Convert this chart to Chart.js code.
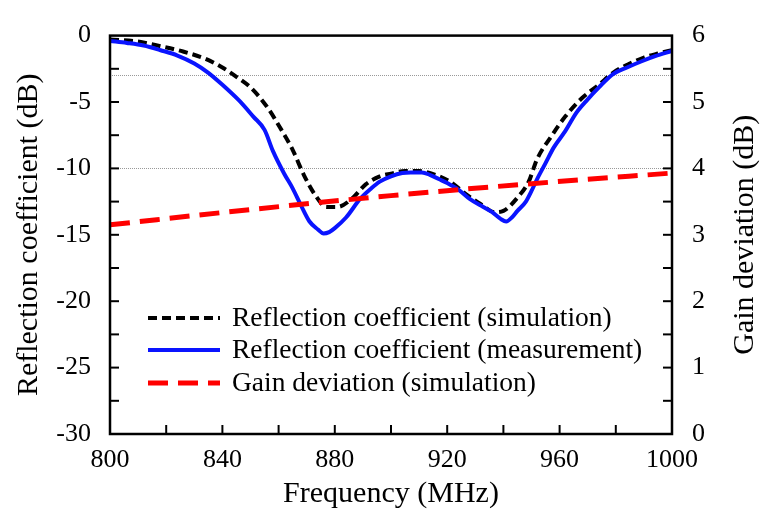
<!DOCTYPE html>
<html>
<head>
<meta charset="utf-8">
<script src="https://cdn.jsdelivr.net/npm/chart.js@4/dist/chart.umd.min.js"></script>
<style>
  body { margin: 0; background: #fff; }
  #wrap { width: 762px; height: 516px; }
</style>
</head>
<body>
<div id="wrap"><canvas id="grafico" width="762" height="516"></canvas></div>
<script>
// datos
const freqSim = [800, 810, 818, 826, 834, 840, 845, 850, 856, 861, 865, 869, 873, 877, 881, 886, 891, 896, 900, 905, 910, 916, 921, 927, 932, 937, 940, 945, 949, 952, 957, 962, 968, 974, 979, 985, 990, 995, 1000];
const rcSim = [-0.3, -0.45, -0.8, -1.2, -1.75, -2.4, -3.1, -3.9, -5.4, -7.1, -8.6, -10.5, -12.0, -12.9, -12.9, -12.3, -11.2, -10.6, -10.4, -10.2, -10.2, -10.5, -11.0, -12.0, -12.7, -13.3, -13.2, -12.2, -11.0, -9.3, -7.6, -6.1, -4.7, -3.7, -2.8, -2.1, -1.65, -1.35, -1.1];

const freqMeas = [800, 806, 812, 818, 824, 830, 835, 840, 846, 851, 855, 858, 862, 865, 868, 871, 874, 876, 878, 880, 884, 889, 893, 896, 900, 904, 907, 911, 914, 917, 920, 924, 928, 932, 936, 939, 941, 943, 945, 948, 950, 952, 955, 958, 962, 966, 970, 974, 979, 984, 989, 994, 1000];
const rcMeas = [-0.4, -0.55, -0.75, -1.1, -1.5, -2.1, -2.8, -3.7, -4.9, -6.1, -7.1, -8.7, -10.4, -11.5, -12.8, -14.0, -14.6, -14.9, -14.8, -14.5, -13.7, -12.3, -11.5, -11.0, -10.6, -10.35, -10.3, -10.3, -10.5, -10.8, -11.1, -11.6, -12.3, -12.8, -13.3, -13.8, -14.0, -13.7, -13.2, -12.5, -11.7, -10.8, -9.6, -8.4, -7.2, -5.8, -4.8, -3.9, -2.9, -2.4, -1.95, -1.55, -1.15];

const freqGain = [800, 850, 900, 950, 1000];
const gainSim = [3.15, 3.38, 3.59, 3.77, 3.93];

const xTicks = [800, 840, 880, 920, 960, 1000];
const refLines = [-3, -10];

const etiquetas = [
  'Reflection coefficient (simulation)',
  'Reflection coefficient (measurement)',
  'Gain deviation (simulation)'
];
const tituloIzq = 'Reflection coefficient (dB)';
const tituloDer = 'Gain deviation (dB)';

const serif = '"Liberation Serif", "Times New Roman", serif';

function puntos(xs, ys) {
  return xs.map((x, i) => ({ x: x, y: ys[i] }));
}

// marco, marcas hacia dentro, lineas de referencia, titulos y leyenda
const marcoPlugin = {
  id: 'marco',
  beforeDatasetsDraw(chart) {
    const ctx = chart.ctx;
    const a = chart.chartArea;
    const y = chart.scales.y;
    ctx.save();
    ctx.strokeStyle = '#999';
    ctx.lineWidth = 1;
    ctx.setLineDash([1, 1]);
    refLines.forEach(v => {
      const py = Math.round(y.getPixelForValue(v)) + 0.5;
      ctx.beginPath();
      ctx.moveTo(a.left, py);
      ctx.lineTo(a.right, py);
      ctx.stroke();
    });
    ctx.restore();
  },
  afterDatasetsDraw(chart) {
    const ctx = chart.ctx;
    const a = chart.chartArea;
    const { x, y, y1 } = chart.scales;
    ctx.save();
    ctx.strokeStyle = '#000';
    ctx.lineWidth = 2.5;
    ctx.setLineDash([]);
    ctx.strokeRect(a.left, a.top, a.right - a.left, a.bottom - a.top);
    ctx.lineWidth = 2;
    const len = 9;
    for (let v = -27.5; v < 0; v += 2.5) {
      const py = y.getPixelForValue(v);
      ctx.beginPath(); ctx.moveTo(a.left, py); ctx.lineTo(a.left + len, py); ctx.stroke();
    }
    for (let v = 0.5; v < 6; v += 0.5) {
      const py = y1.getPixelForValue(v);
      ctx.beginPath(); ctx.moveTo(a.right, py); ctx.lineTo(a.right - len, py); ctx.stroke();
    }
    for (let v = 820; v < 1000; v += 20) {
      const px = x.getPixelForValue(v);
      ctx.beginPath(); ctx.moveTo(px, a.bottom); ctx.lineTo(px, a.bottom - len); ctx.stroke();
    }

    // titulos verticales (ambos leidos de abajo hacia arriba)
    const cy = (a.top + a.bottom) / 2;
    ctx.fillStyle = '#000';
    ctx.font = '30px ' + serif;
    ctx.textAlign = 'center';
    ctx.textBaseline = 'middle';
    [[29, tituloIzq], [745, tituloDer]].forEach(([tx, texto]) => {
      ctx.save();
      ctx.translate(tx, cy);
      ctx.rotate(-Math.PI / 2);
      ctx.fillText(texto, 0, 0);
      ctx.restore();
    });

    // leyenda
    const ds = chart.data.datasets;
    const lx = 148, lw = 72, tx = 232;
    const filas = [318, 350, 383];
    ctx.font = '27.5px ' + serif;
    ctx.textAlign = 'left';
    ds.forEach((d, i) => {
      ctx.strokeStyle = d.borderColor;
      ctx.lineWidth = d.borderWidth;
      ctx.setLineDash(d.borderDash || []);
      ctx.beginPath();
      ctx.moveTo(lx, filas[i]);
      ctx.lineTo(lx + lw, filas[i]);
      ctx.stroke();
      ctx.fillText(d.label, tx, filas[i] + 1);
    });
    ctx.restore();
  }
};

new Chart(document.getElementById('grafico'), {
  type: 'line',
  data: {
    datasets: [
      {
        label: etiquetas[0],
        data: puntos(freqSim, rcSim),
        yAxisID: 'y',
        borderColor: '#000',
        borderWidth: 4,
        borderDash: [9, 5],
        order: 2
      },
      {
        label: etiquetas[1],
        data: puntos(freqMeas, rcMeas),
        yAxisID: 'y',
        borderColor: '#0a14ff',
        borderWidth: 4,
        order: 1
      },
      {
        label: etiquetas[2],
        data: puntos(freqGain, gainSim),
        yAxisID: 'y1',
        borderColor: '#ff0000',
        borderWidth: 5,
        borderDash: [20, 10],
        order: 0
      }
    ]
  },
  options: {
    responsive: false,
    animation: false,
    layout: { padding: { top: 22, left: 0, right: 0, bottom: 0 } },
    elements: {
      point: { radius: 0 },
      line: { cubicInterpolationMode: 'monotone', fill: false }
    },
    plugins: {
      legend: { display: false },
      tooltip: { enabled: false }
    },
    scales: {
      x: {
        type: 'linear',
        min: 800,
        max: 1000,
        afterBuildTicks: s => { s.ticks = xTicks.map(v => ({ value: v })); },
        afterFit: s => { s.height = 82; },
        grid: { display: false, drawTicks: false },
        border: { display: false },
        ticks: { color: '#000', font: { family: serif, size: 26 }, padding: 11, maxRotation: 0, callback: v => String(v) },
        title: { display: true, text: 'Frequency (MHz)', color: '#000', font: { family: serif, size: 30 }, padding: { top: 2 } }
      },
      y: {
        position: 'left',
        min: -30,
        max: 0,
        afterFit: s => { s.width = 110; },
        grid: { display: false, drawTicks: false },
        border: { display: false },
        ticks: { stepSize: 5, color: '#000', font: { family: serif, size: 26 }, padding: 19, callback: v => String(v) }
      },
      y1: {
        position: 'right',
        min: 0,
        max: 6,
        afterFit: s => { s.width = 90; },
        grid: { display: false, drawTicks: false },
        border: { display: false },
        ticks: { stepSize: 1, color: '#000', font: { family: serif, size: 26 }, padding: 20 }
      }
    }
  },
  plugins: [marcoPlugin]
});
</script>
</body>
</html>
